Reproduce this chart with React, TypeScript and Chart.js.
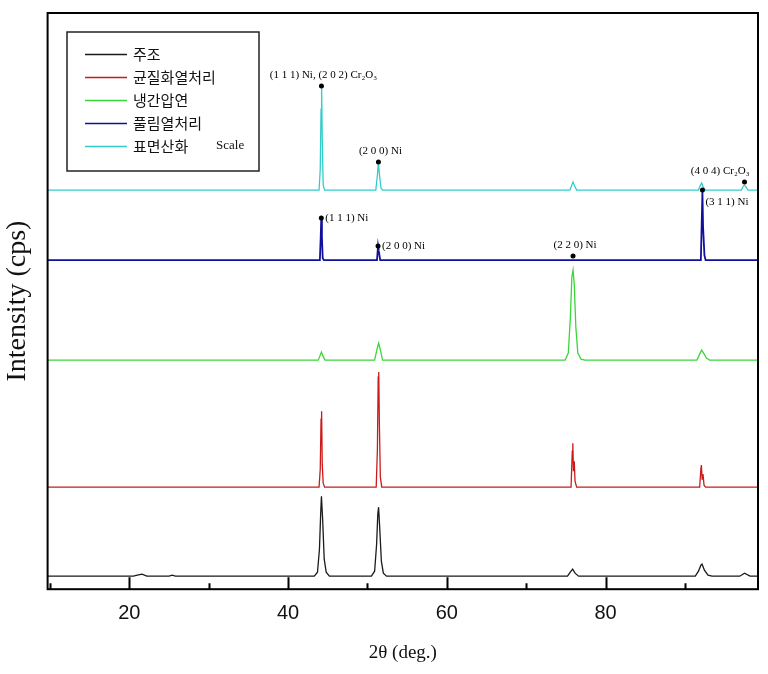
import React, { useEffect, useRef } from "react";
import { Chart, registerables } from "chart.js";

Chart.register(...registerables);

// ---- data ----
const seriesNames = ["주조", "균질화열처리", "냉간압연", "풀림열처리", "표면산화"];
const seriesColors = ["#1a1a1a", "#cc1a1a", "#3ad63a", "#10109a", "#33cccc"];

// 2θ (deg.), intensity (arb., stacked offsets included)
const castPattern: [number, number][] = [
  [9.7, 13], [20.5, 13], [21, 14], [21.6, 15], [22.2, 13], [25, 13], [25.4, 14], [25.8, 13],
  [43.3, 13], [43.7, 17], [43.95, 40], [44.1, 75], [44.2, 93], [44.35, 70], [44.55, 30], [44.8, 17], [45.2, 13],
  [50.5, 13], [50.9, 18], [51.15, 45], [51.3, 75], [51.4, 82], [51.55, 60], [51.75, 28], [52.0, 16], [52.4, 13],
  [75.2, 13], [75.55, 17], [75.85, 20], [76.15, 16], [76.6, 13],
  [91.3, 13], [91.7, 18], [92.0, 24], [92.15, 25], [92.45, 19], [92.9, 14], [93.4, 13],
  [96.9, 13], [97.5, 16], [98.2, 13], [99.2, 13],
];
const homogenizedPattern: [number, number][] = [
  [9.7, 102], [43.9, 102], [44.05, 120], [44.15, 170], [44.22, 178], [44.3, 125], [44.42, 106], [44.6, 102],
  [51.1, 102], [51.25, 140], [51.35, 212], [51.42, 217], [51.5, 165], [51.62, 112], [51.8, 102],
  [75.65, 102], [75.8, 138], [75.87, 146], [75.95, 118], [76.05, 128], [76.15, 108], [76.35, 102],
  [91.85, 102], [92.0, 120], [92.07, 124], [92.16, 110], [92.27, 115], [92.4, 104], [92.6, 102], [99.2, 102],
];
const coldRolledPattern: [number, number][] = [
  [9.7, 229], [43.8, 229], [44.05, 234], [44.2, 237], [44.4, 233], [44.65, 229],
  [50.9, 229], [51.2, 240], [51.4, 246], [51.6, 240], [51.9, 229],
  [74.9, 229], [75.3, 236], [75.55, 270], [75.75, 312], [75.9, 319], [76.05, 305], [76.25, 262], [76.5, 236], [76.9, 230], [77.4, 229],
  [91.5, 229], [91.85, 235], [92.1, 239], [92.35, 236], [92.7, 231], [93.1, 229], [99.2, 229],
];
const annealedPattern: [number, number][] = [
  [9.7, 329], [44.0, 329], [44.1, 350], [44.18, 371], [44.26, 352], [44.36, 331], [44.5, 329],
  [51.2, 329], [51.33, 343], [51.4, 339], [51.47, 336], [51.6, 329],
  [92.0, 329], [92.12, 370], [92.2, 397], [92.28, 362], [92.35, 362], [92.45, 334], [92.6, 329], [99.2, 329],
];
const oxidizedPattern: [number, number][] = [
  [9.7, 399], [43.9, 399], [44.05, 420], [44.15, 480], [44.22, 503], [44.3, 450], [44.42, 404], [44.6, 399],
  [51.05, 399], [51.25, 414], [51.38, 427], [51.5, 415], [51.7, 401], [51.9, 399],
  [75.5, 399], [75.75, 404], [75.9, 407], [76.1, 403], [76.35, 399],
  [91.7, 399], [91.95, 404], [92.1, 406], [92.3, 402], [92.55, 399],
  [97.1, 399], [97.35, 403], [97.5, 404], [97.7, 402], [97.95, 399], [99.2, 399],
];
const patterns = [castPattern, homogenizedPattern, coldRolledPattern, annealedPattern, oxidizedPattern];

const xMajorTicks = [20, 40, 60, 80];
const xMinorTicks = [10, 30, 50, 70, 90];

// peak markers: 2θ, intensity, label
const peakMarkers = [
  { x: 44.2, y: 503, text: "(1 1 1) Ni, (2 0 2) Cr₂O₃", pos: "above" },
  { x: 51.38, y: 427, text: "(2 0 0) Ni", pos: "above" },
  { x: 97.5, y: 407, text: "(4 0 4) Cr₂O₃", pos: "aboveLeft" },
  { x: 92.2, y: 399, text: "(3 1 1) Ni", pos: "belowRight" },
  { x: 44.18, y: 371, text: "(1 1 1) Ni", pos: "right" },
  { x: 51.33, y: 343, text: "(2 0 0) Ni", pos: "right" },
  { x: 75.9, y: 333, text: "(2 2 0) Ni", pos: "above" },
];

const framePlugin = {
  id: "frameAndDecor",
  afterDraw(chart: any) {
    const { ctx, chartArea } = chart;
    const xs = chart.scales.x;
    const ys = chart.scales.y;
    ctx.save();
    // frame
    ctx.strokeStyle = "#000";
    ctx.lineWidth = 2;
    ctx.strokeRect(chartArea.left, chartArea.top, chartArea.right - chartArea.left, chartArea.bottom - chartArea.top);
    // inward ticks
    ctx.lineWidth = 2;
    ctx.beginPath();
    xMajorTicks.forEach((v) => {
      const px = Math.round(xs.getPixelForValue(v)) + 0.5;
      ctx.moveTo(px, chartArea.bottom);
      ctx.lineTo(px, chartArea.bottom - 12);
    });
    xMinorTicks.forEach((v) => {
      const px = Math.round(xs.getPixelForValue(v)) + 0.5;
      ctx.moveTo(px, chartArea.bottom);
      ctx.lineTo(px, chartArea.bottom - 6);
    });
    ctx.stroke();

    // peak markers
    ctx.fillStyle = "#000";
    ctx.font = '11px "Liberation Serif"';
    peakMarkers.forEach((m) => {
      const px = xs.getPixelForValue(m.x);
      const py = ys.getPixelForValue(m.y);
      ctx.beginPath();
      ctx.arc(px, py, 2.5, 0, Math.PI * 2);
      ctx.fill();
      ctx.textBaseline = "middle";
      if (m.pos === "above") {
        ctx.textAlign = "center";
        ctx.fillText(m.text, px + 2, py - 11);
      } else if (m.pos === "aboveLeft") {
        ctx.textAlign = "right";
        ctx.fillText(m.text, px + 5, py - 11);
      } else if (m.pos === "belowRight") {
        ctx.textAlign = "left";
        ctx.fillText(m.text, px + 3, py + 12);
      } else {
        ctx.textAlign = "left";
        ctx.fillText(m.text, px + 4, py);
      }
    });

    // legend box
    const bx = 67, by = 32, bw = 192, bh = 139;
    ctx.fillStyle = "#fff";
    ctx.fillRect(bx, by, bw, bh);
    ctx.strokeStyle = "#222";
    ctx.lineWidth = 1.5;
    ctx.strokeRect(bx, by, bw, bh);
    const rowY = [54, 77, 100, 123, 146];
    chart.data.datasets.forEach((ds: any, i: number) => {
      const y = rowY[i];
      ctx.strokeStyle = ds.borderColor;
      ctx.lineWidth = 1.5;
      ctx.beginPath();
      ctx.moveTo(85, y + 0.5);
      ctx.lineTo(127, y + 0.5);
      ctx.stroke();
      ctx.fillStyle = "#111";
      ctx.font = '15px "Noto Sans CJK KR"';
      ctx.textAlign = "left";
      ctx.textBaseline = "middle";
      ctx.fillText(ds.label, 133, y);
    });
    ctx.font = '13px "Liberation Serif"';
    ctx.fillText("Scale", 216, rowY[4]);
    ctx.restore();
  },
};

export default function App() {
  const ref = useRef<HTMLCanvasElement | null>(null);
  useEffect(() => {
    if (!ref.current) return;
    const chart = new Chart(ref.current, {
      type: "line",
      data: {
        datasets: patterns.map((p, i) => ({
          label: seriesNames[i],
          data: p.map(([x, y]) => ({ x, y })),
          borderColor: seriesColors[i],
          backgroundColor: seriesColors[i],
          borderWidth: i === 3 ? 1.8 : 1.3,
          pointRadius: 0,
          tension: 0,
          fill: false,
        })),
      },
      options: {
        responsive: false,
        animation: false,
        devicePixelRatio: 1,
        layout: { padding: { top: 13, right: 10, left: 0, bottom: 0 } },
        plugins: { legend: { display: false }, tooltip: { enabled: false } },
        scales: {
          x: {
            type: "linear",
            min: 9.7,
            max: 99.2,
            afterBuildTicks: (scale: any) => {
              scale.ticks = xMajorTicks.map((v) => ({ value: v }));
            },
            ticks: {
              autoSkip: false,
              maxRotation: 0,
              padding: 12,
              color: "#111",
              font: { family: '"Liberation Sans"', size: 20 },
              callback: (v: any) => String(v),
            },
            grid: { display: false, drawTicks: false },
            border: { display: false },
            title: {
              display: true,
              text: "2θ (deg.)",
              color: "#111",
              font: { family: '"Liberation Serif"', size: 19 },
              padding: { top: 4, bottom: 10 },
            },
          },
          y: {
            type: "linear",
            min: 0,
            max: 576,
            ticks: { display: false },
            grid: { display: false, drawTicks: false },
            border: { display: false },
            title: {
              display: true,
              text: "Intensity (cps)",
              color: "#111",
              font: { family: '"Liberation Serif"', size: 28 },
              padding: { top: 1, bottom: 13 },
            },
          },
        },
      },
      plugins: [framePlugin],
    });
    return () => chart.destroy();
  }, []);
  return (
    <div style={{ position: "fixed", left: 0, top: 0, width: 768, height: 674, background: "#fff" }}>
      <canvas ref={ref} width={768} height={674} style={{ width: 768, height: 674, display: "block" }} />
    </div>
  );
}
